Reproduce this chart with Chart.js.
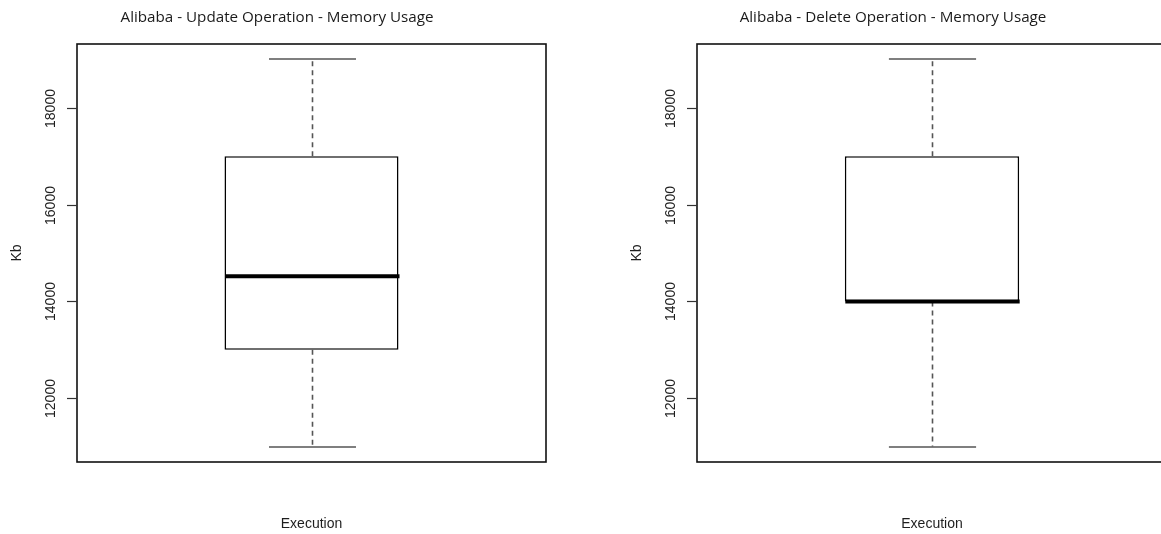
<!DOCTYPE html>
<html>
<head>
    <title>Alibaba - Memory Usage</title>
    <script src="https://cdn.jsdelivr.net/npm/chart.js"></script>
    <style>
        body {
            margin: 0;
            background-color: #ffffff;
            overflow: hidden;
            width: 1161px;
            height: 534px;
            position: relative;
        }
        canvas {
            position: absolute;
            top: 0;
        }
        #updateChart { left: 0; }
        #deleteChart { left: 580px; }
    </style>
</head>
<body>
    <canvas id="updateChart" width="580" height="534"></canvas>
    <canvas id="deleteChart" width="600" height="534"></canvas>

    <script>
        // Dane (Kb)
        const panelTitles = ['Alibaba - Update Operation - Memory Usage', 'Alibaba - Delete Operation - Memory Usage'];
        const categories = ['Execution'];
        const whiskerLow = [11000, 11000];
        const boxLow = [13000, 14000];
        const medians = [14520, 14000];
        const boxHigh = [17000, 17000];
        const whiskerHigh = [19000, 19000];
        const yTicks = [12000, 14000, 16000, 18000];
        const yMin = 10680;
        const yMax = 19320;
        const yLabel = 'Kb';

        const tickFont = '14px "Liberation Sans", Arial, sans-serif';

        function makePanel(canvasId, i, padding, titleX) {
            // Wąsy, mediana, ramka i osie w stylu R
            const rPlot = {
                id: 'rPlot',
                afterDatasetsDraw(chart) {
                    const ctx = chart.ctx;
                    const y = chart.scales.y;
                    const bar = chart.getDatasetMeta(0).data[0];
                    const cx = Math.round(bar.x) + 0.5;
                    const half = bar.width / 2;
                    const cap = half / 2;

                    ctx.save();
                    // przerywane wąsy
                    ctx.strokeStyle = '#555555';
                    ctx.lineWidth = 1.6;
                    ctx.setLineDash([5, 4]);
                    ctx.beginPath();
                    ctx.moveTo(cx, y.getPixelForValue(boxHigh[i]));
                    ctx.lineTo(cx, y.getPixelForValue(whiskerHigh[i]));
                    ctx.moveTo(cx, y.getPixelForValue(boxLow[i]));
                    ctx.lineTo(cx, y.getPixelForValue(whiskerLow[i]));
                    ctx.stroke();
                    ctx.setLineDash([]);
                    // końcówki wąsów
                    ctx.beginPath();
                    [whiskerHigh[i], whiskerLow[i]].forEach(v => {
                        const py = Math.round(y.getPixelForValue(v));
                        ctx.moveTo(cx - cap, py);
                        ctx.lineTo(cx + cap, py);
                    });
                    ctx.stroke();
                    // mediana
                    ctx.strokeStyle = '#000000';
                    ctx.lineWidth = 4;
                    ctx.beginPath();
                    const my = y.getPixelForValue(medians[i]);
                    ctx.moveTo(cx - half, my);
                    ctx.lineTo(cx + half, my);
                    ctx.stroke();
                    ctx.restore();
                },
                afterDraw(chart) {
                    const ctx = chart.ctx;
                    const area = chart.chartArea;
                    const y = chart.scales.y;
                    ctx.save();
                    // ramka
                    ctx.strokeStyle = '#111111';
                    ctx.lineWidth = 1.6;
                    ctx.strokeRect(area.left, area.top, area.right - area.left, area.bottom - area.top);
                    // znaczniki osi Y i etykiety (pionowe)
                    ctx.strokeStyle = '#333333';
                    ctx.lineWidth = 1.2;
                    ctx.fillStyle = '#1e1e1e';
                    ctx.font = tickFont;
                    ctx.textAlign = 'center';
                    ctx.textBaseline = 'middle';
                    y.ticks.forEach(t => {
                        const py = Math.round(y.getPixelForValue(t.value)) + 0.5;
                        ctx.beginPath();
                        ctx.moveTo(area.left - 10, py);
                        ctx.lineTo(area.left, py);
                        ctx.stroke();
                        ctx.save();
                        ctx.translate(area.left - 26, py);
                        ctx.rotate(-Math.PI / 2);
                        ctx.fillText(String(t.value), 0, 0);
                        ctx.restore();
                    });
                    // tytuły osi
                    const midY = (area.top + area.bottom) / 2;
                    ctx.save();
                    ctx.translate(area.left - 60, midY);
                    ctx.rotate(-Math.PI / 2);
                    ctx.fillText(yLabel, 0, 0);
                    ctx.restore();
                    ctx.fillText(categories[0], (area.left + area.right) / 2, area.bottom + 62);
                    // tytuł wykresu
                    ctx.fillStyle = '#1a1a1a';
                    ctx.font = '15.2px "Open Sans", "Noto Sans", sans-serif';
                    ctx.fillText(panelTitles[i], titleX, 18);
                    ctx.restore();
                }
            };

            return new Chart(document.getElementById(canvasId), {
                type: 'bar',
                data: {
                    labels: categories,
                    datasets: [{
                        data: [[boxLow[i], boxHigh[i]]],
                        backgroundColor: '#ffffff',
                        borderColor: '#000000',
                        borderWidth: 1.6,
                        borderSkipped: false,
                        barPercentage: 0.371,
                        categoryPercentage: 1
                    }]
                },
                options: {
                    responsive: false,
                    animation: false,
                    layout: { padding: padding },
                    scales: {
                        x: { display: false },
                        y: {
                            display: false,
                            min: yMin,
                            max: yMax,
                            afterBuildTicks: scale => {
                                scale.ticks = yTicks.map(v => ({ value: v }));
                            }
                        }
                    },
                    plugins: {
                        legend: { display: false },
                        tooltip: { enabled: false }
                    }
                },
                plugins: [rPlot]
            });
        }

        makePanel('updateChart', 0, { left: 77, top: 44, right: 34, bottom: 72 }, 277);
        makePanel('deleteChart', 1, { left: 117, top: 44, right: 13, bottom: 72 }, 313);
    </script>
</body>
</html>
